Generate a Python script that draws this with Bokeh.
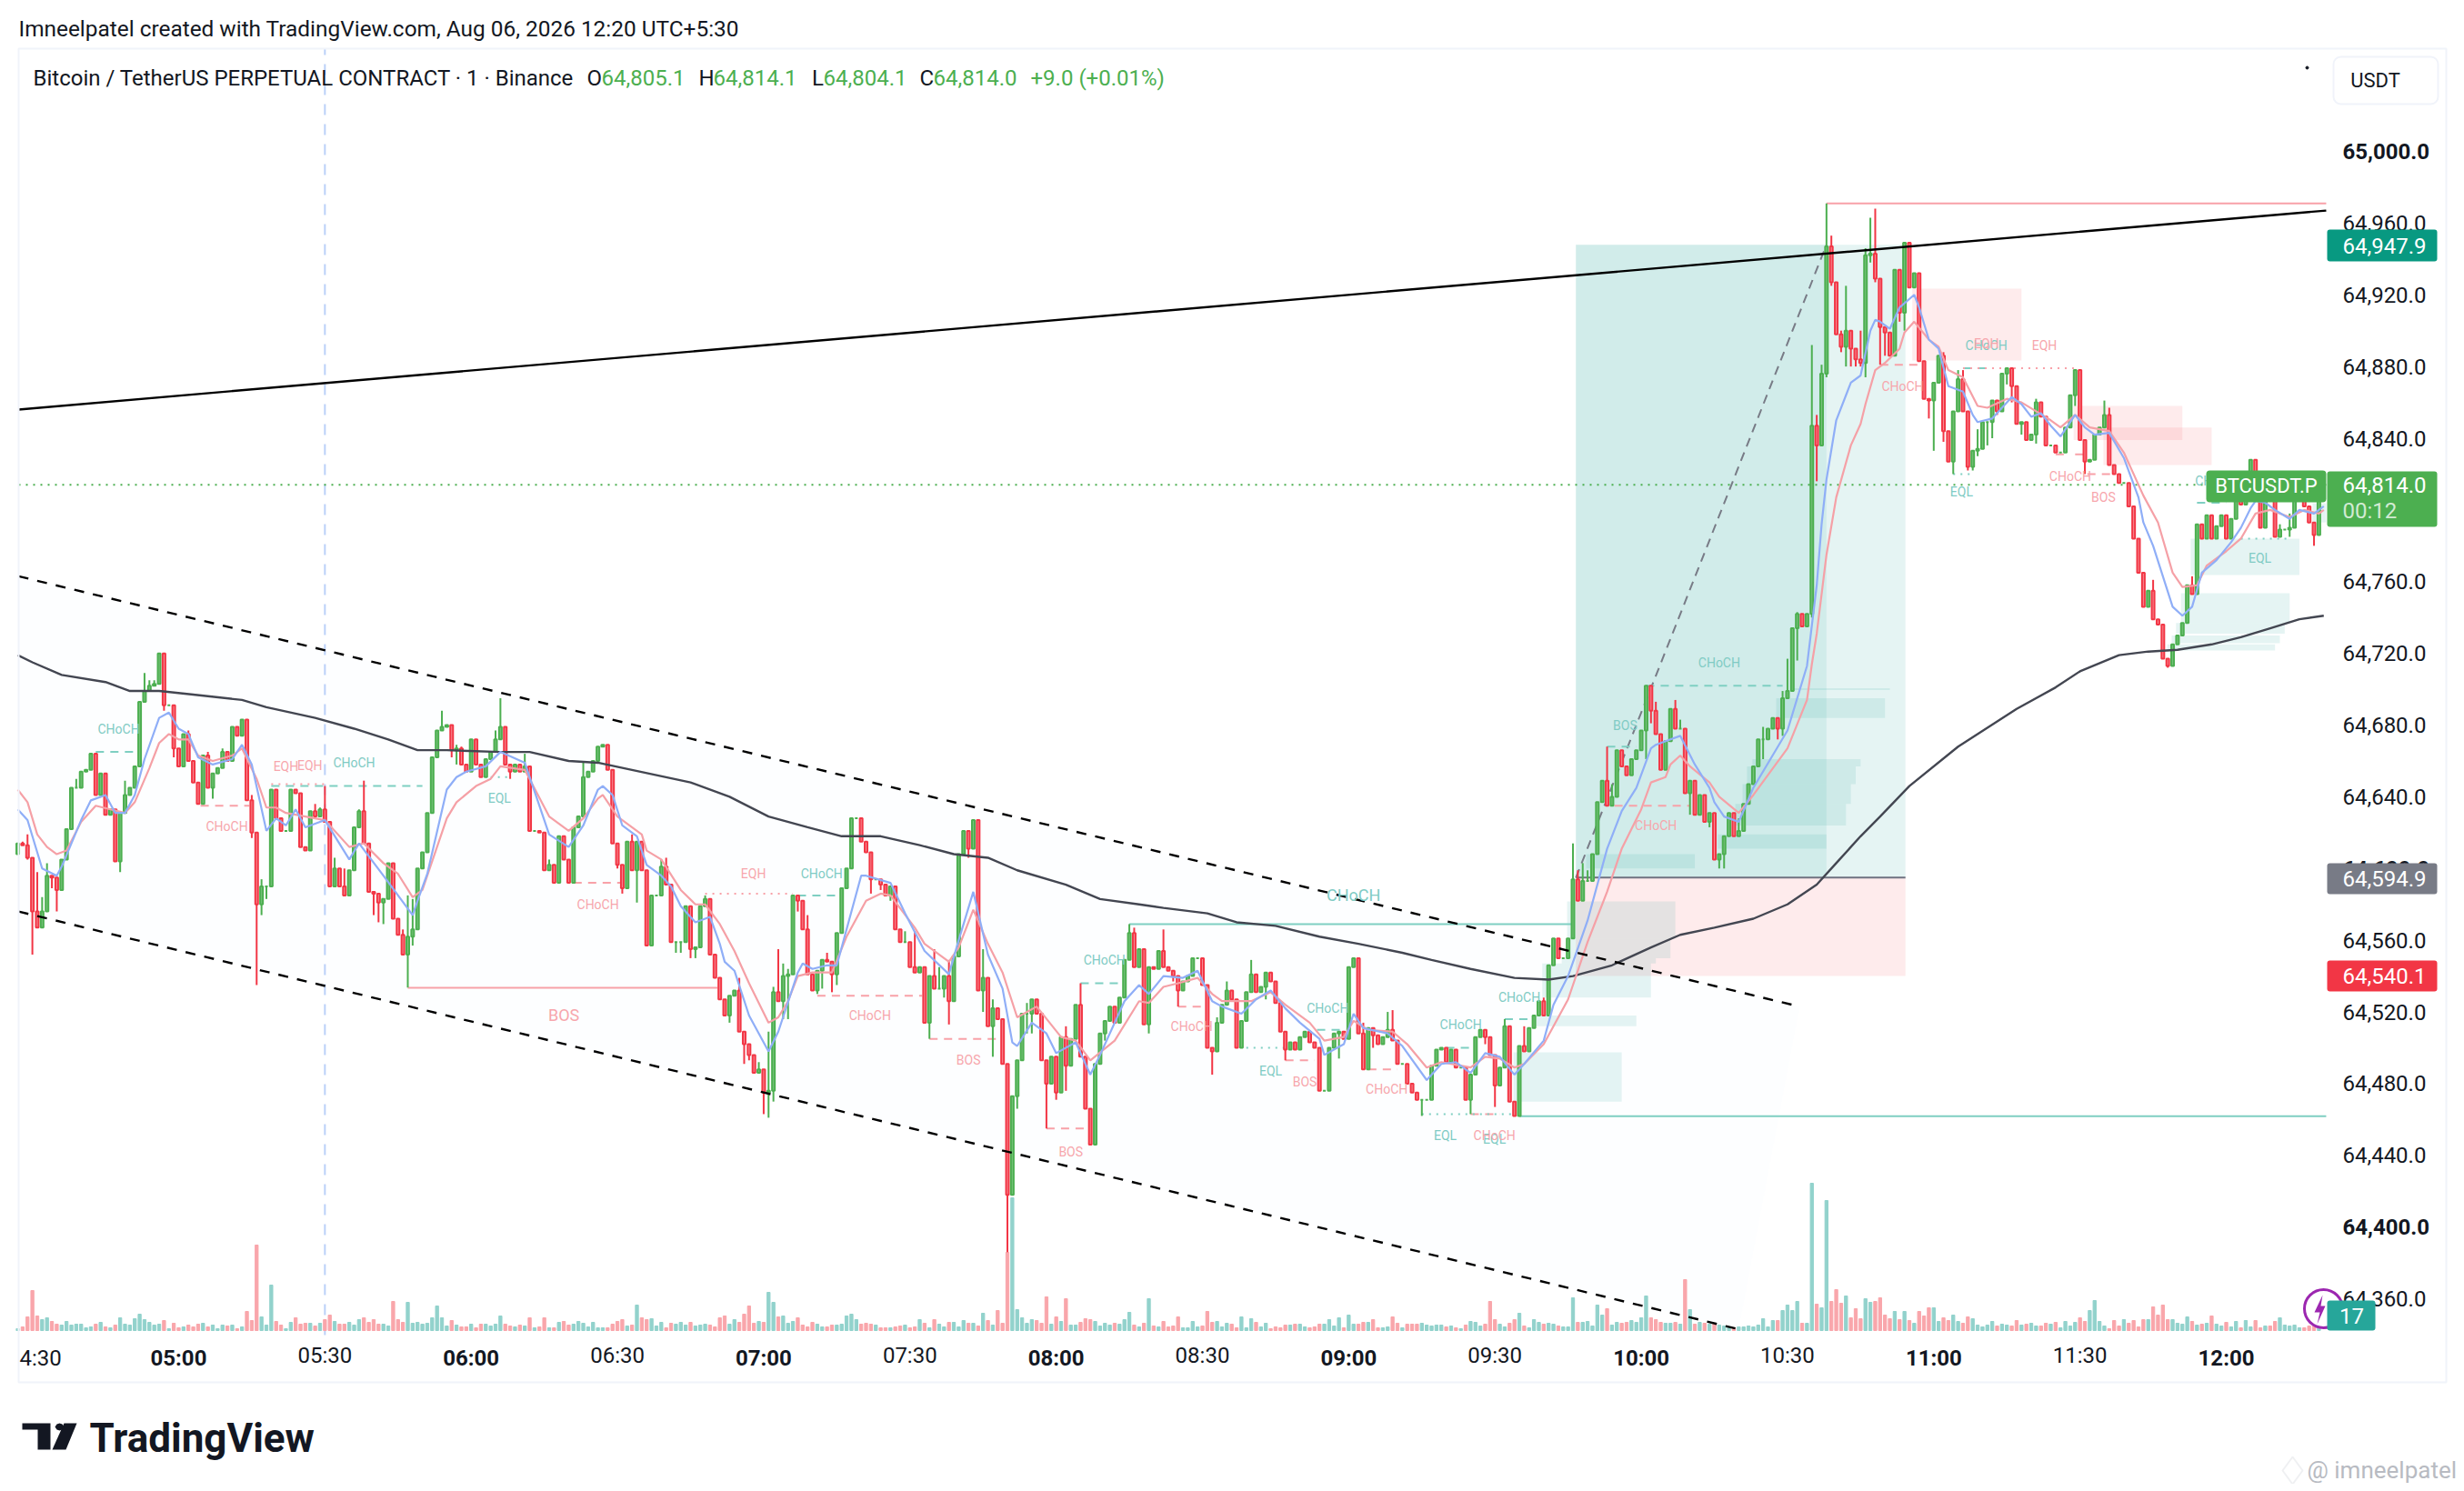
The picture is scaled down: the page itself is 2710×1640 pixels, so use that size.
from bokeh.plotting import figure
from bokeh.models import Range1d, FixedTicker, Label, BoxAnnotation, PolyAnnotation
from bokeh.core.properties import value
from bokeh.embed import file_html
from bokeh.resources import INLINE

# ---- candles: closes by session block (one value per minute, minute-of-day 267 .. 739) ----
first_minute = 267
first_open = 64608
closes_0427 = [64614,64613,64606,64576,64567,64576,64596,64595,64588,64605,
 64622,64645,64645,64654,64655,64664,64641,64653,64630,64633,
 64604,64631,64641,64645,64657,64693,64699,64702,64703,64720,
 64691,64691,64667]
closes_0500 = [64657,64675,64660,64648,64636,64663,64645,64653,64656,64665,
 64660,64679,64674,64683,64638,64620,64580,64590,64590,64644,
 64628,64621,64621,64644,64642,64612,64610,64632,64629,64633,
 64626,64590,64600,64590,64585,64599,64623,64632,64614,64587,
 64586,64581,64583,64603,64572,64563,64552,64562,64566,64600,
 64609,64631,64662,64677,64679,64680,64666,64667,64658,64654]
closes_0600 = [64672,64658,64651,64661,64665,64672,64679,64658,64654,64658,
 64654,64657,64621,64621,64620,64599,64602,64592,64618,64605,
 64592,64623,64629,64651,64654,64660,64668,64669,64655,64614,
 64602,64589,64615,64599,64615,64599,64557,64585,64585,64601,
 64591,64559,64559,64559,64579,64555,64556,64579,64583,64552,
 64539,64527,64518,64529,64532,64509,64502,64496,64486,64488]
closes_0700 = [64475,64476,64531,64526,64540,64541,64585,64582,64566,64541,
 64532,64543,64549,64548,64541,64564,64589,64600,64628,64628,
 64615,64609,64594,64594,64591,64585,64590,64566,64559,64559,
 64545,64542,64545,64514,64540,64533,64533,64540,64526,64551,
 64608,64621,64611,64627,64532,64539,64512,64522,64516,64491,
 64418,64473,64493,64519,64519,64527,64519,64493,64480,64495]
closes_0800 = [64475,64506,64490,64505,64524,64495,64466,64446,64491,64508,
 64515,64523,64514,64528,64549,64564,64545,64555,64513,64545,
 64544,64554,64545,64543,64540,64532,64537,64540,64550,64550,
 64535,64500,64498,64514,64524,64532,64527,64500,64515,64531,
 64541,64531,64534,64542,64537,64525,64509,64499,64503,64499,
 64506,64509,64503,64500,64476,64476,64500,64508,64509,64505]
closes_0900 = [64545,64550,64508,64488,64511,64507,64502,64506,64510,64504,
 64491,64491,64480,64475,64471,64471,64471,64490,64499,64500,
 64492,64499,64489,64489,64471,64485,64506,64510,64506,64496,
 64479,64489,64512,64470,64462,64501,64498,64511,64518,64526,
 64518,64546,64561,64550,64550,64561,64594,64582,64593,64593,
 64608,64637,64649,64635,64640,64666,64657,64652,64661,64666]
closes_1000 = [64677,64702,64688,64675,64655,64671,64689,64678,64678,64642,
 64649,64630,64641,64626,64631,64605,64608,64618,64631,64618,
 64621,64636,64647,64657,64672,64672,64678,64684,64678,64695,
 64699,64734,64742,64735,64742,64847,64836,64876,64947,64927,
 64898,64891,64900,64890,64884,64882,64942,64943,64929,64902,
 64899,64886,64934,64910,64949,64924,64932,64883,64862,64861]
closes_1100 = [64871,64886,64844,64827,64855,64873,64855,64824,64833,64834,
 64849,64849,64861,64855,64876,64879,64869,64848,64849,64839,
 64842,64860,64852,64836,64836,64832,64832,64846,64864,64878,
 64839,64827,64828,64842,64846,64853,64825,64820,64815,64815,
 64802,64784,64765,64746,64755,64739,64736,64717,64713,64725,
 64730,64737,64758,64753,64792,64784,64797,64784,64791,64797]
closes_1200 = [64784,64795,64806,64803,64818,64828,64805,64790,64807,64806,
 64785,64789,64789,64790,64805,64807,64802,64793,64786,64814]

wick_highs = {268:64615,269:64619,271:64598,272:64584,273:64603,279:64650,289:64649,293:64709,294:64705,295:64705,
 302:64677,306:64665,309:64667,315:64641,317:64594,328:64636,329:64634,330:64646,332:64606,334:64600,337:64633,338:64649,
 346:64566,347:64585,348:64583,354:64688,357:64669,358:64668,365:64677,366:64695,371:64664,376:64605,383:64659,
 393:64619,399:64605,400:64606,408:64585,415:64539,419:64492,421:64509,422:64534,423:64555,424:64547,425:64544,429:64574,
 433:64553,449:64565,451:64565,455:64555,456:64545,458:64549,465:64555,467:64527,474:64525,482:64512,485:64536,495:64569,496:64567,
 502:64566,513:64517,515:64537,520:64549,543:64514,548:64520,549:64521,572:64516,576:64512,580:64528,
 586:64614,587:64599,588:64603,589:64599,593:64668,594:64647,603:64693,607:64694,608:64683,620:64628,625:64679,629:64699,630:64717,
 632:64743,635:64892,636:64853,637:64881,638:64971,639:64953,641:64900,642:64925,645:64900,646:64946,647:64963,648:64968,
 662:64888,665:64878,666:64878,669:64845,681:64862,695:64861,696:64857,705:64761,713:64763,731:64792,733:64798}
wick_lows = {269:64605,270:64552,274:64589,275:64576,288:64598,297:64688,299:64662,307:64639,315:64617,316:64535,317:64574,318:64583,
 340:64574,341:64570,342:64569,347:64533.6,348:64557,356:64662,357:64658,368:64650,
 390:64600,391:64586,394:64581,402:64553,403:64553,405:64550,406:64550,413:64514,416:64491,417:64493,420:64463,421:64461,422:64470,
 424:64516,425:64516,427:64576,431:64530,432:64533,434:64531,435:64535,442:64586,444:64588,446:64582,454:64505,457:64528,458:64513,
 462:64606,465:64520,467:64495,472:64466,474:64508,475:64508,478:64455,470:64386,480:64471,482:64476,490:64504,499:64508,
 504:64537,505:64523,512:64485,523:64527,527:64493,538:64494,545:64500,555:64462,565:64463,568:64502,570:64467,
 590:64594,601:64661,602:64681,610:64630,614:64623,616:64600,617:64600,625:64661,628:64672,629:64674,
 632:64716,635:64740,636:64816,638:64874,639:64925,641:64888,642:64880,643:64880,644:64880,645:64880,646:64874,647:64938,648:64927,
 649:64881,650:64886,653:64905,654:64900,659:64851,660:64833,662:64838,664:64820,667:64822,668:64822,669:64830,671:64836,672:64840,
 673:64853,675:64870,676:64860,678:64842,681:64837,689:64858,691:64820,708:64712,733:64785,738:64780}

volume_0427 = [2,4,15,44,16,12,14,10,7,6,10,6,7,7,3,4,7,9,4,3,6,14,7,6,13,18,12,9,6,7,11,2,8]
volume_0500 = [3,4,6,4,7,8,4,6,2,6, 5,6,2,4,21,11,94,15,6,50, 10,6,2,9,14,7,8,8,5,8,
 12,17,10,7,7,9,6,12,14,9, 12,7,7,5,32,12,9,31,8,9, 7,8,14,27,14,5,11,6,4,4]
volume_0600 = [7,3,7,7,5,7,16,7,5,4, 6,5,14,3,4,14,3,3,9,10, 6,7,10,8,4,9,3,3,3,7,
 10,12,5,6,28,14,12,13,5,9, 3,8,7,9,6,9,5,6,7,6, 4,14,16,7,12,9,18,27,8,10]
volume_0700 = [9,42,31,15,16,8,10,14,6,4, 9,7,4,4,6,6,7,16,18,12, 7,8,7,6,3,3,3,4,5,6,
 3,4,12,8,3,12,7,4,9,9, 4,11,8,8,5,19,11,6,22,8, 86,146,23,14,8,12,11,8,37,7]
volume_0800 = [15,10,35,6,6,9,13,12,10,5, 8,6,8,7,12,20,6,4,8,35, 5,4,10,4,5,15,3,3,10,4,
 5,21,9,10,4,8,7,3,15,3, 13,9,4,8,2,4,3,6,6,7, 7,4,3,4,7,7,12,5,14,3]
volume_0900 = [17,7,7,9,9,12,3,3,4,15, 8,3,7,7,7,8,6,5,6,6, 4,5,3,2,6,10,9,5,7,32,
 12,7,4,8,12,19,5,3,12,9, 7,8,7,5,4,4,36,9,9,10, 5,28,17,24,6,9,8,9,11,9]
volume_1000 = [14,38,14,12,9,8,8,9,7,56, 23,7,9,8,7,8,6,5,4,3, 4,4,5,4,6,13,4,11,11,22,
 28,22,32,8,8,162,29,25,143,32, 45,30,38,14,24,13,35,31,32,36, 17,13,21,12,21,11,8,21,16,25]
volume_1100 = [25,10,14,11,17,10,8,15,13,6, 4,6,10,5,7,6,5,11,6,7, 8,5,5,8,7,9,3,10,5,9,
 14,10,22,33,10,5,2,11,5,12, 8,11,4,12,12,26,17,28,12,12, 8,7,15,10,6,7,8,16,7,5]
volume_1200 = [9,4,10,3,11,4,11,3,5,5, 10,14,6,5,6,3,3,5,5,3]

# ---- moving averages: (minute, price) ----
fast_ma = [(267,64633),(269,64627),(271,64609),(272,64600),(275,64596),(276,64601),(280,64627),(282,64638),(285,64641),(287,64631),(289,64631),(291,64641),(293,64661),(296,64684),(298,64687),(300,64678),(302,64675),(304,64662),(307,64658),(311,64661),(313,64669),(315,64658),(318,64621),(320,64628),(322,64624),(324,64633),(326,64623),(330,64627),(335,64605),(337,64614),(342,64596),(348,64574),(349,64582),(351,64597),(355,64644),(357,64651),(359,64654),(363,64657),(366,64665),(371,64659),(376,64619),(380,64612),(383,64624),(386,64644),(387,64646),(389,64641),(391,64624),(394,64618),(396,64602),(399,64596),(401,64590),(403,64579),(406,64570),(409,64573),(411,64558),(412,64548),(414,64543),(417,64518),(421,64498),(423,64509),(427,64542),(428,64547),(430,64544),(433,64546),(435,64546),(440,64596),(441,64596),(446,64592),(449,64575),(453,64554),(458,64541),(460,64560),(463,64587),(466,64552),(469,64533),(471,64503),(472,64501),(475,64514),(478,64508),(480,64497),(484,64503),(487,64485),(489,64496),(494,64526),(497,64535),(499,64530),(502,64540),(506,64539),(509,64543),(512,64526),(514,64523),(518,64519),(521,64527),(524,64532),(527,64522),(530,64514),(534,64505),(535,64496),(539,64502),(541,64519),(543,64511),(548,64508),(551,64501),(556,64482),(559,64491),(562,64492),(565,64486),(568,64497),(571,64495),(574,64485),(576,64491),(580,64504),(582,64524),(585,64540),(589,64571),(593,64611),(596,64632),(599,64645),(602,64667),(603,64669),(605,64671),(608,64674),(611,64658),(614,64645),(615,64637),(617,64629),(620,64626),(623,64645),(630,64677),(634,64713),(636,64758),(637,64792),(638,64817),(640,64850),(643,64871),(645,64875),(647,64900),(648,64906),(649,64905),(651,64901),(653,64913),(656,64920),(657,64913),(659,64895),(661,64890),(663,64869),(666,64866),(668,64853),(669,64849),(672,64851),(676,64863),(678,64859),(680,64852),(682,64854),(684,64847),(686,64841),(689,64853),(691,64846),(693,64842),(696,64843),(699,64829),(702,64807),(703,64793),(705,64780),(709,64746),(711,64741),(713,64746),(715,64765),(718,64772),(721,64782),(723,64790),(725,64801),(726,64805),(728,64804),(730,64800),(733,64795),(735,64800),(738,64798),(740,64802)]
mid_ma = [(267,64644),(269,64637),(271,64619),(273,64612),(275,64608),(277,64610),(280,64626),(283,64635),(286,64633),(289,64631),(291,64637),(294,64656),(296,64670),(298,64675),(300,64672),(302,64672),(304,64663),(307,64660),(311,64663),(313,64667),(316,64650),(318,64634),(320,64634),(322,64631),(326,64629),(330,64627),(335,64612),(338,64614),(342,64603),(345,64597),(348,64584),(350,64588),(355,64628),(357,64637),(361,64646),(364,64650),(366,64657),(371,64655),(376,64629),(380,64621),(383,64628),(386,64639),(387,64641),(390,64629),(395,64619),(396,64610),(399,64605),(403,64588),(406,64580),(408,64580),(411,64569),(414,64554),(417,64536),(421,64514),(423,64517),(425,64526),(427,64540),(430,64542),(434,64542),(437,64562),(441,64582),(444,64586),(446,64585),(451,64567),(453,64558),(458,64548),(460,64556),(463,64577),(466,64558),(469,64542),(472,64517),(476,64523),(481,64506),(484,64504),(487,64493),(492,64504),(497,64526),(499,64525),(502,64534),(505,64536),(509,64539),(512,64530),(514,64526),(520,64526),(524,64531),(527,64524),(532,64514),(535,64504),(539,64506),(541,64515),(544,64510),(549,64509),(552,64502),(556,64489),(559,64492),(565,64489),(568,64495),(571,64494),(574,64489),(576,64491),(580,64502),(585,64527),(589,64559),(593,64587),(596,64611),(600,64633),(602,64648),(605,64651),(606,64658),(608,64663),(610,64657),(614,64648),(616,64640),(620,64631),(623,64641),(630,64667),(634,64694),(635,64714),(636,64731),(638,64775),(640,64807),(643,64836),(645,64848),(646,64859),(648,64878),(650,64882),(653,64890),(654,64899),(656,64905),(659,64895),(661,64891),(663,64878),(666,64874),(669,64858),(671,64857),(675,64862),(678,64860),(681,64855),(684,64850),(686,64846),(689,64853),(692,64846),(696,64844),(699,64832),(703,64808),(706,64793),(709,64765),(711,64757),(714,64758),(716,64769),(720,64777),(723,64784),(726,64798),(729,64800),(733,64796),(736,64800),(739,64798),(740,64800)]
long_ma = [(267,64719),(270,64715),(276,64708),(285,64704),(290,64699),(296,64699),(303,64697),(313,64694),(318,64690),(328,64684),(336,64678),(343,64672),(349,64666),(355,64666),(366,64665),(372,64665),(380,64660),(386,64659),(405,64648),(413,64640),(421,64629),(429,64623),(436,64618),(444,64618),(452,64613),(459,64608),(466,64606),(472,64599),(482,64591),(489,64583),(497,64580),(502,64578),(511,64575),(517,64570),(525,64568),(534,64562),(542,64558),(551,64553),(557,64549),(565,64544),(574,64539),(581,64538),(586,64540),(594,64546),(602,64556),(608,64563),(615,64567),(623,64572),(630,64580),(636,64591),(640,64603),(645,64618),(649,64629),(655,64646),(665,64668),(677,64689),(685,64701),(690,64710),(698,64719),(704,64721),(710,64722),(717,64725),(723,64729),(729,64734),(735,64739),(740,64741)]

# ---- drawings ----
axis_ticks_half = [330,390,450,510,570,630,690]
axis_labels_half = ["05:30","06:30","07:30","08:30","09:30","10:30","11:30"]
hour_ticks = [300,360,420,480,540,600,660,720]
hour_labels = ["05:00","06:00","07:00","08:00","09:00","10:00","11:00","12:00"]
price_ticks = [64960,64920,64880,64840,64800,64760,64720,64680,64640,64560,64520,64480,64440,64360]
bold_prices = [65000,64600,64400]

teal_boxes = [(584.8,607,64561,64581.6),(584.8,606,64550,64561),(583.7,603,64547,64550),(579.7,602,64528,64547),(578.4,599,64512,64518),(573.8,596,64470,64497.5),
 (588.7,611,64600,64608),(615.7,638,64611,64619),(619.3,642,64624,64636),(620.8,643,64636,64647),(621.7,644,64647,64657),(622.8,645,64657,64661),(627.7,650,64684,64695),(631,651,64699.5,64700.5),
 (712.7,735,64763.7,64784),(710.7,733,64737,64753.6),(709.7,732,64731,64737),(708.8,731,64725.6,64730),(707.9,730,64721.6,64725),(737.7,740.5,64793,64803.7)]
red_boxes = [(655.6,678,64883.4,64923.4),(688.7,711,64839,64858),(694.8,717,64825,64846)]

teal_dash = [(283,292,64665),(319,350,64646),(427,436,64585),(485,493.5,64536),(533.5,539.5,64510),(560,566,64500),(572,578,64516),(593,599,64668),(601,629,64702),(666,672,64879),(714,720,64804)]
pink_dash = [(304.5,314.5,64635),(381,391,64592),(431,452.5,64529),(454,468,64505),(478,487,64455),(505,511,64523),(527,533,64493),(544,550,64488),(565,571,64463),(594.5,610,64635),(649,658,64881),(685,687,64831),(689,691,64831),(691.5,697,64820)]
teal_dots = [(364,368,64651),(519,527,64500),(555,574,64463),(664,668,64820),(723,733,64784)]
pink_dots = [(319,330,64647),(408,426,64586),(666,689,64879)]
teal_solid = [(495,586,64569),(575,740.5,64461.8)]
pink_solid = [(347,410.5,64533.5),(638,740.5,64971)]

teal_texts = [("CHoCH",287.7,64677.5),("CHoCH",336,64659),("EQL",365.8,64639),("CHoCH",431.9,64597),("CHoCH",489.9,64549),("EQL",524,64487),("CHoCH",535.7,64522),("CHoCH",563,64513),("EQL",559.8,64451),("EQL",569.9,64449),("CHoCH",575,64528),("CHoCH",616,64715),("BOS",596.7,64680),("CHoCH",670.8,64891.5),("EQL",665.7,64810),("EQL",726.9,64773),("CHoCH",717.9,64816)]
pink_texts = [("EQH",322,64657),("EQH",326.9,64657.7),("CHoCH",309.9,64623.7),("CHoCH",386,64580),("EQH",417.9,64597),("CHoCH",441.8,64518),("BOS",462,64493),("BOS",483,64442),("CHoCH",507.8,64512),("BOS",531,64481),("CHoCH",547.8,64477),("CHoCH",569.9,64451),("CHoCH",603,64624),("CHoCH",653.6,64869),("EQH",670.8,64892.5),("EQH",682.7,64891.5),("CHoCH",688,64818.5),("BOS",694.8,64807)]

# ---- scales: minute/price of the price pane, extended so the frame spans the whole canvas ----
T0, T1, P0, P1 = 267.18, 740.5, 64339.8, 65057.3
W, H = 2702, 1632
def tx(px): return T0 + (px - 20) / 5.362
def py(px): return P1 - (px - 53) / 1.972
def t_px(t): return 20 + (t - T0) * 5.362
def p_px(v): return 53 + (P1 - v) * 1.972

closes = closes_0427 + closes_0500 + closes_0600 + closes_0700 + closes_0800 + closes_0900 + closes_1000 + closes_1100 + closes_1200
volumes = volume_0427 + volume_0500 + volume_0600 + volume_0700 + volume_0800 + volume_0900 + volume_1000 + volume_1100 + volume_1200
assert len(closes) == 473, len(closes)
assert len(volumes) == 473, len(volumes)
minutes = [first_minute + i for i in range(473)]
opens = [first_open] + closes[:-1]
highs = [max(o, c, wick_highs.get(m, 0)) for o, c, m in zip(opens, closes, minutes)]
lows = [min(o, c, wick_lows.get(m, 99999)) for o, c, m in zip(opens, closes, minutes)]

FONT = "Roboto"
TEAL_TXT, PINK_TXT = "#80CBC4", "#F7A6AC"
BODY_UP, BODY_DN, EDGE_UP, EDGE_DN = "#78C27C", "#F88A94", "#4CAF50", "#F23645"

p = figure(width=W, height=H, output_backend="svg", toolbar_location=None,
           x_range=Range1d(tx(0), tx(W)), y_range=Range1d(py(H), py(0)), y_axis_location="right",
           min_border=0, background_fill_color="white", outline_line_color=None)
p.grid.visible = False

ax = p.yaxis[0]
ax.fixed_location = T1
ax.ticker = FixedTicker(ticks=price_ticks)
ax.major_label_overrides = {t: f"{t:,.1f}" for t in price_ticks}
ax.axis_line_color = None; ax.major_tick_line_color = None; ax.minor_tick_line_color = None
ax.major_tick_out = 0; ax.major_tick_in = 0; ax.minor_tick_out = 0
ax.major_label_standoff = 18
ax.major_label_text_font = FONT; ax.major_label_text_font_size = "24px"; ax.major_label_text_color = "#131722"

bx = p.xaxis[0]
bx.fixed_location = P0
bx.ticker = FixedTicker(ticks=axis_ticks_half)
bx.major_label_overrides = dict(zip(axis_ticks_half, axis_labels_half))
bx.axis_line_color = None; bx.major_tick_line_color = None; bx.minor_tick_line_color = None
bx.major_tick_out = 0; bx.major_tick_in = 0; bx.minor_tick_out = 0
bx.major_label_standoff = 9
bx.major_label_text_font = FONT; bx.major_label_text_font_size = "24px"; bx.major_label_text_color = "#131722"

# channel tint
p.patch([267.18, 632.5, 620, 267.18], [64763, 64523, 64343, 64576], fill_color="#F0F7FF", fill_alpha=0.15, line_color=None)

# position tool
p.quad(left=[586.6], right=[654.2], bottom=[64594.9], top=[64947.9], fill_color="#26A69A", fill_alpha=0.12, line_color=None)
p.quad(left=[586.6], right=[638], bottom=[64594.9], top=[64947.9], fill_color="#26A69A", fill_alpha=0.1, line_color=None)
p.quad(left=[586.6], right=[654.2], bottom=[64540.1], top=[64594.9], fill_color="#F23645", fill_alpha=0.1, line_color=None)
p.segment([586.6], [64594.9], [654.2], [64594.9], line_color="#6F7280", line_width=2)
p.segment([586.6], [64594.9], [638], [64947.9], line_color="#787B86", line_width=2, line_dash="10 7")

# zones
for lst, col, a in [(teal_boxes, "#26A69A", 0.12), (red_boxes, "#F23645", 0.1)]:
    p.quad(left=[b[0] for b in lst], right=[b[1] for b in lst], bottom=[b[2] for b in lst], top=[b[3] for b in lst],
           fill_color=col, fill_alpha=a, line_color=None)

# crosshair-like vertical and last price
p.segment([330], [P0], [330], [P1], line_color="#BBD1F8", line_width=2, line_dash="12 10")
p.segment([T0], [64814], [T1], [64814], line_color="#4CAF50", line_width=2, line_dash="2 6")

# volume pane (own hidden scale whose zero sits on the pane's baseline)
p.extra_y_ranges = {"vol": Range1d(-(H - 1463), 1463)}
vol_colors = ["#92D2CC" if c >= o else "#F9A6AB" for o, c in zip(opens, closes)]
p.vbar(x=minutes, bottom=0, top=volumes, width=0.62, color=vol_colors, y_range_name="vol")

# structure lines
def seg(lst, color, dash=None, w=2):
    kw = {"line_dash": dash} if dash else {}
    p.segment([s[0] for s in lst], [s[2] for s in lst], [s[1] for s in lst], [s[2] for s in lst],
              line_color=color, line_width=w, **kw)
seg(teal_dash, "#7FCFC2", "9 7"); seg(pink_dash, "#F8A1A8", "9 7")
seg(teal_dots, "#7FCFC2", "2 6"); seg(pink_dots, "#F8A1A8", "2 6")
seg(teal_solid, "#7FCFC2"); seg(pink_solid, "#F8A1A8")

# candles
p.segment(minutes, highs, minutes, lows, color=[EDGE_UP if c >= o else EDGE_DN for o, c in zip(opens, closes)], line_width=2)
p.vbar(x=minutes, bottom=opens, top=closes, width=0.56,
       fill_color=[BODY_UP if c >= o else BODY_DN for o, c in zip(opens, closes)],
       line_color=[EDGE_UP if c >= o else EDGE_DN for o, c in zip(opens, closes)], line_width=2)

# moving averages
p.line([a[0] for a in long_ma], [a[1] for a in long_ma], line_color="#434651", line_width=2.4)
p.line([a[0] for a in mid_ma], [a[1] for a in mid_ma], line_color="#F5A0A6", line_width=2.2)
p.line([a[0] for a in fast_ma], [a[1] for a in fast_ma], line_color="#8FAEF7", line_width=2.2)

# trendlines
p.line([267.18, 740.5], [64856, 64967], line_color="black", line_width=2.4)
p.line([267.18, 632.5], [64763, 64523], line_color="black", line_width=2.4, line_dash="11 10")
p.line([267.18, 620], [64576, 64343], line_color="black", line_width=2.4, line_dash="11 10")

# structure texts
def texts(lst, color, size="14px"):
    p.text([t[1] for t in lst], [t[2] for t in lst], text=[t[0] for t in lst], text_color=color,
           text_font=value(FONT), text_font_size=size, text_align="center", text_baseline="middle")
texts(teal_texts, TEAL_TXT); texts(pink_texts, PINK_TXT)
texts([("CHoCH", 541, 64585)], TEAL_TXT, "18px"); texts([("BOS", 379, 64518)], PINK_TXT, "18px")

# icon near the scale
p.scatter([tx(2555)], [py(1439)], marker="circle", size=42, fill_color=None, line_color="#9C27B0", line_width=3)
p.patch([tx(v) for v in (2554, 2545, 2551, 2548, 2557, 2552)], [py(v) for v in (1424, 1443, 1443, 1456, 1436, 1436)], fill_color="#9C27B0", line_color=None)
p.scatter([tx(2537)], [py(74)], marker="circle", size=3, color="#131722")

def label(x, y, text, color="#131722", size="24px", style="normal", align="left", font=FONT, alpha=1.0):
    p.add_layout(Label(x=tx(x), y=py(y), text=text, text_color=color, text_font=font,
                       text_font_size=size, text_font_style=style, text_align=align, text_baseline="middle", text_alpha=alpha))

def box(l, r, t, b, fill, line=None, radius=0, fa=1.0):
    p.add_layout(BoxAnnotation(left=tx(l), right=tx(r), top=py(t), bottom=py(b),
                               fill_color=fill, fill_alpha=fa, line_color=line, line_alpha=1.0 if line else 0,
                               line_width=2 if line else 0, border_radius=radius, level="annotation"))

def poly(xs, ys, fill, line=None):
    p.add_layout(PolyAnnotation(xs=[tx(v) for v in xs], ys=[py(v) for v in ys],
                                fill_color=fill, fill_alpha=1 if fill else 0, line_color=line, line_width=2))

# pane outline
box(20, 2690, 53, 1520, None, "#F0F3FA", fa=0)

# bold ticks, clipped first time label
for v in bold_prices:
    label(2576, p_px(v), f"{v:,.1f}", style="bold")
for t, s in zip(hour_ticks, hour_labels):
    label(t_px(t), 1493, s, style="bold", align="center")
label(21, 1493, "4:30")

# header
label(20, 31, "Imneelpatel created with TradingView.com, Aug 06, 2026 12:20 UTC+5:30", size="24.4px")
label(36, 85, "Bitcoin / TetherUS PERPETUAL CONTRACT · 1 · Binance")
for lx, s in [(645, "O"), (768, "H"), (892.5, "L"), (1011, "C")]:
    label(lx, 85, s)
for lx, s in [(661, "64,805.1"), (784, "64,814.1"), (905, "64,804.1"), (1026, "64,814.0"), (1133, "+9.0 (+0.01%)")]:
    label(lx, 85, s, color="#4CAF50")

# USDT button
box(2566, 2681, 62, 114, "white", "#F0F3FA", radius=8)
label(2612, 88, "USDT", align="center", size="22px")

# price tags
box(2559, 2680, 252, 287, "#089981", radius=3)
label(2576, 270, "64,947.9", color="white")
box(2426, 2558, 517, 552, "#4CAF50", radius=4)
label(2492, 534, "BTCUSDT.P", color="white", size="22px", align="center")
box(2559, 2680, 518, 579, "#4CAF50", radius=3)
label(2576, 533, "64,814.0", color="white")
label(2576, 561, "00:12", color="white", alpha=0.75)
box(2559, 2680, 949, 983, "#787B86", radius=3)
label(2576, 966, "64,594.9", color="white")
box(2559, 2680, 1056, 1090, "#F23645", radius=3)
label(2576, 1073, "64,540.1", color="white")
box(2559, 2612, 1430, 1463, "#26A69A", radius=3)
label(2586, 1447, "17", color="white", align="center")

# logo
poly((24, 55, 55, 41, 41, 24), (1565, 1565, 1594, 1594, 1572, 1572), "#131722")
poly((70, 84, 72, 57), (1565, 1565, 1594, 1594), "#131722")
poly((62, 65, 68, 70, 68, 65, 62, 60), (1566, 1565, 1566, 1569, 1572, 1573, 1572, 1569), "#131722")
label(98, 1581, "TradingView", size="44px", style="bold")

# watermark
poly((2510, 2521, 2532, 2521), (1617, 1602, 1617, 1632), None, "#C9CCD3")
label(2537, 1616, "@ imneelpatel", color="#B8BBC2", size="26px")

open("out.html", "w").write(file_html(p, INLINE))
